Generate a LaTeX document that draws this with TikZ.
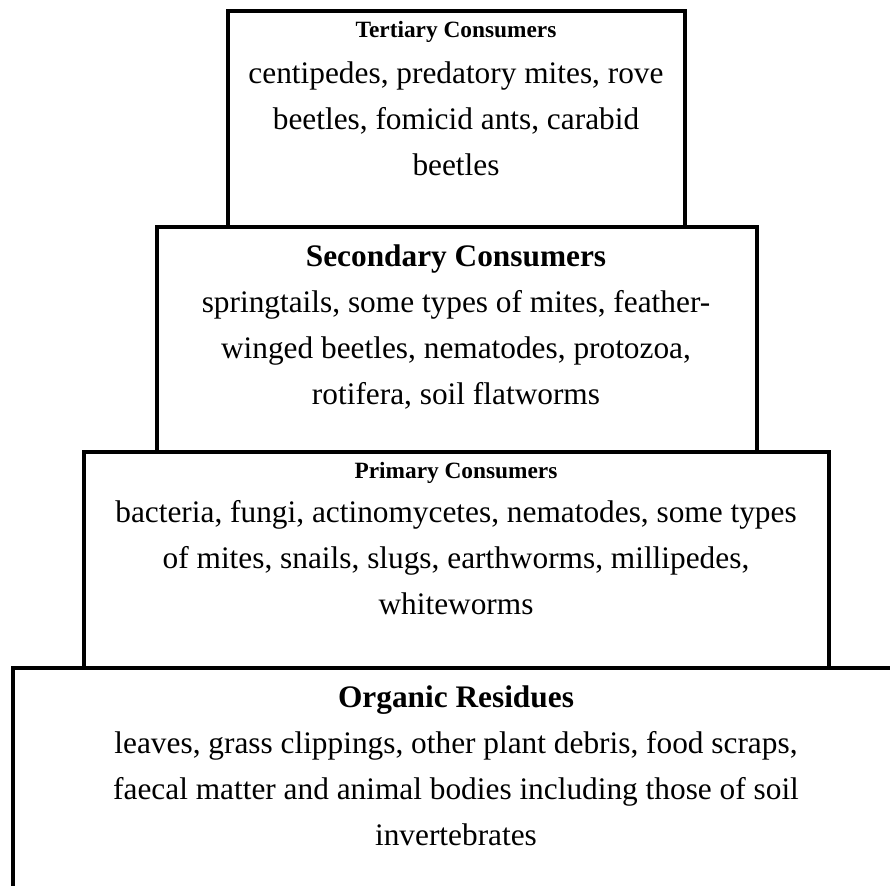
\documentclass[tikz,border=0pt]{standalone}
\usepackage{fontspec}
\setmainfont{Liberation Serif}

\tikzset{
  head/.style={font=\bfseries\fontsize{17.5}{20}\selectfont, anchor=base},
  bighead/.style={font=\bfseries\fontsize{23.5}{26}\selectfont, anchor=base},
  body/.style={font=\fontsize{23.5}{26}\selectfont, anchor=base}
}

\begin{document}
\begin{tikzpicture}[x=0.75pt, y=-0.75pt, line width=3pt]

\def\mid{456}
\def\gap{46}

\useasboundingbox (0,0) rectangle (890,886);
\clip (0,0) rectangle (890,886);

% the four levels, from the top down
\draw (228,11) rectangle (685,227);
\draw (157,227) rectangle (757,452);
\draw (84,452) rectangle (829,668);
\draw (13,668) rectangle (920,920);

% tertiary
\node[head] (tertHead) at (\mid,37) {Tertiary Consumers};
\foreach \txt [count=\i] in {{centipedes, predatory mites, rove},
    {beetles, fomicid ants, carabid}, {beetles}}
  \node[body] (tert\i) at (\mid,{37+\i*\gap}) {\txt};

% secondary
\node[bighead] (secHead) at (\mid,266) {Secondary Consumers};
\foreach \txt [count=\i] in {{springtails, some types of mites, feather-},
    {winged beetles, nematodes, protozoa,}, {rotifera, soil flatworms}}
  \node[body] (sec\i) at (\mid,{266+\i*\gap}) {\txt};

% primary
\node[head] (primHead) at (\mid,478) {Primary Consumers};
\foreach \txt [count=\i] in {{bacteria, fungi, actinomycetes, nematodes, some types},
    {of mites, snails, slugs, earthworms, millipedes,}, {whiteworms}}
  \node[body] (prim\i) at (\mid,{476+\i*\gap}) {\txt};

% organic residues
\node[bighead] (orgHead) at (\mid,707) {Organic Residues};
\foreach \txt [count=\i] in {{leaves, grass clippings, other plant debris, food scraps,},
    {faecal matter and animal bodies including those of soil}, {invertebrates}}
  \node[body] (org\i) at (\mid,{707+\i*\gap}) {\txt};

\end{tikzpicture}
\end{document}
